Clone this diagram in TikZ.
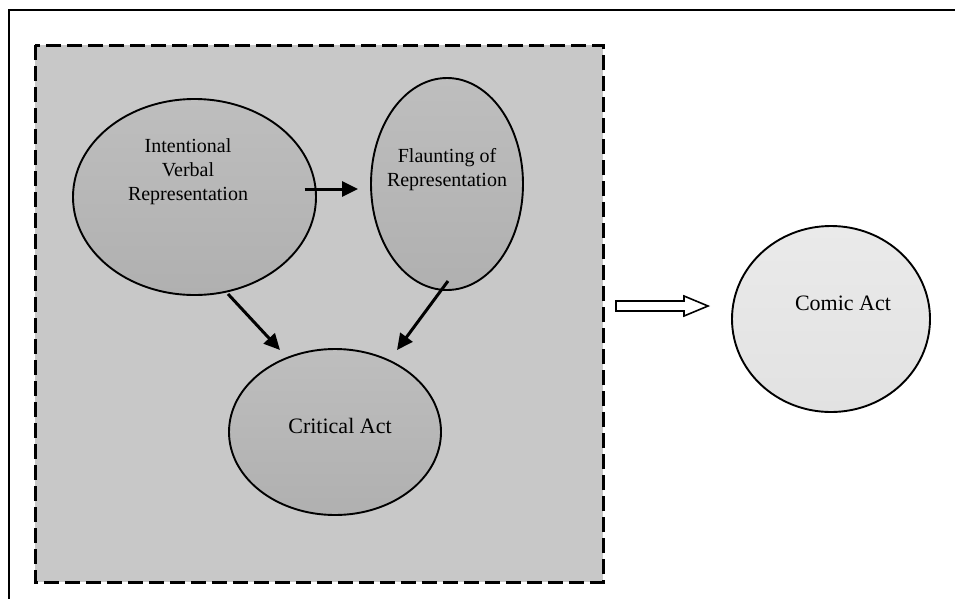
\documentclass[tikz,border=0pt]{standalone}
\usepackage{fontspec}
\setmainfont{Liberation Serif}
\usetikzlibrary{shapes.geometric,arrows.meta,calc}
\definecolor{boxgray}{RGB}{200,200,200}
\definecolor{elltop}{RGB}{190,190,190}
\definecolor{ellbot}{RGB}{176,176,176}
\definecolor{comictop}{RGB}{234,234,234}
\definecolor{comicbot}{RGB}{226,226,226}
\tikzset{
  ell/.style={ellipse, draw=black, line width=1.9pt, inner sep=0pt, top color=elltop, bottom color=ellbot},
  lbl/.style={align=center, font=\fontsize{20}{24}\selectfont, inner sep=0pt},
  lblbig/.style={align=center, font=\fontsize{22}{26}\selectfont, inner sep=0pt},
  arr/.style={line width=3pt, -{Triangle[length=16pt,width=15pt]}},
}
\begin{document}
\begin{tikzpicture}[x=1pt,y=-1pt]
\useasboundingbox (0,0) rectangle (955,598);
% outer frame (only top and left edges visible)
\draw[line width=2.4pt] (9,600) -- (9,10) -- (957,10);
% dashed grey box
\draw[line width=3pt, dash pattern=on 15pt off 6pt, fill=boxgray] (35,45) rectangle (603,582);
% ellipses
\node[ell, minimum width=243pt, minimum height=196pt] (ivr) at (194.5,197) {};
\node[ell, minimum width=152pt, minimum height=212pt] (fl) at (447,184) {};
\node[ell, minimum width=212pt, minimum height=166pt] (crit) at (335,432) {};
\node[ell, top color=comictop, bottom color=comicbot, minimum width=198pt, minimum height=186pt] (comic) at (831,319) {};
% labels
\node[lbl] (ivrT) at (188,172) {Intentional\\Verbal\\Representation};
\node[lbl] (flT) at (447,170) {Flaunting of\\Representation};
\node[lblbig] (critT) at (340,426) {Critical Act};
\node[lblbig] (comicT) at (843,303) {Comic Act};
% connectors
\draw[arr] ($(ivr.center)+(110,-8)$) -- ($(fl.center)+(-89,5)$);
\draw[arr] ($(ivr.center)+(33.5,97)$) -- ($(crit.center)+(-55,-82)$);
\draw[arr] ($(fl.center)+(1,97)$) -- ($(crit.center)+(62,-82)$);
% hollow block arrow
\draw[line width=1.6pt, fill=white] (616,301) -- (684,301) -- (684,296) -- (708,306) -- (684,316) -- (684,311) -- (616,311) -- cycle;
\end{tikzpicture}
\end{document}
